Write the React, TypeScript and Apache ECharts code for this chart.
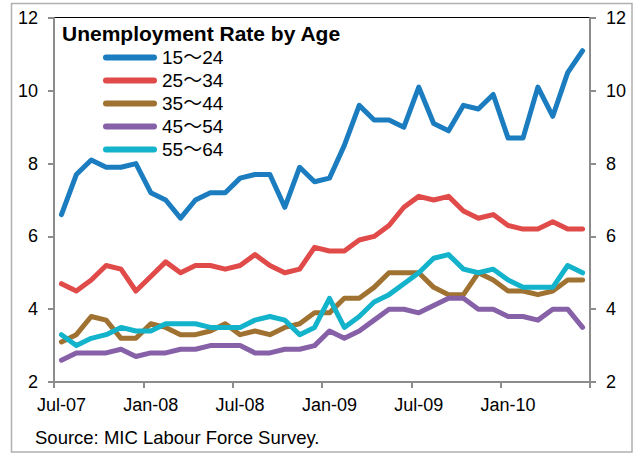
import React, { useEffect, useRef } from "react";
import * as echarts from "echarts";

const months = [
  "Jul-07", "Aug-07", "Sep-07", "Oct-07", "Nov-07", "Dec-07",
  "Jan-08", "Feb-08", "Mar-08", "Apr-08", "May-08", "Jun-08",
  "Jul-08", "Aug-08", "Sep-08", "Oct-08", "Nov-08", "Dec-08",
  "Jan-09", "Feb-09", "Mar-09", "Apr-09", "May-09", "Jun-09",
  "Jul-09", "Aug-09", "Sep-09", "Oct-09", "Nov-09", "Dec-09",
  "Jan-10", "Feb-10", "Mar-10", "Apr-10", "May-10", "Jun-10",
];

const age15to24 = [6.6, 7.7, 8.1, 7.9, 7.9, 8.0, 7.2, 7.0, 6.5, 7.0, 7.2, 7.2, 7.6, 7.7, 7.7, 6.8, 7.9, 7.5, 7.6, 8.5, 9.6, 9.2, 9.2, 9.0, 10.1, 9.1, 8.9, 9.6, 9.5, 9.9, 8.7, 8.7, 10.1, 9.3, 10.5, 11.1];
const age25to34 = [4.7, 4.5, 4.8, 5.2, 5.1, 4.5, 4.9, 5.3, 5.0, 5.2, 5.2, 5.1, 5.2, 5.5, 5.2, 5.0, 5.1, 5.7, 5.6, 5.6, 5.9, 6.0, 6.3, 6.8, 7.1, 7.0, 7.1, 6.7, 6.5, 6.6, 6.3, 6.2, 6.2, 6.4, 6.2, 6.2];
const age35to44 = [3.1, 3.3, 3.8, 3.7, 3.2, 3.2, 3.6, 3.5, 3.3, 3.3, 3.4, 3.6, 3.3, 3.4, 3.3, 3.5, 3.6, 3.9, 3.9, 4.3, 4.3, 4.6, 5.0, 5.0, 5.0, 4.6, 4.4, 4.4, 5.0, 4.8, 4.5, 4.5, 4.4, 4.5, 4.8, 4.8];
const age45to54 = [2.6, 2.8, 2.8, 2.8, 2.9, 2.7, 2.8, 2.8, 2.9, 2.9, 3.0, 3.0, 3.0, 2.8, 2.8, 2.9, 2.9, 3.0, 3.4, 3.2, 3.4, 3.7, 4.0, 4.0, 3.9, 4.1, 4.3, 4.3, 4.0, 4.0, 3.8, 3.8, 3.7, 4.0, 4.0, 3.5];
const age55to64 = [3.3, 3.0, 3.2, 3.3, 3.5, 3.4, 3.4, 3.6, 3.6, 3.6, 3.5, 3.5, 3.5, 3.7, 3.8, 3.7, 3.3, 3.5, 4.3, 3.5, 3.8, 4.2, 4.4, 4.7, 5.0, 5.4, 5.5, 5.1, 5.0, 5.1, 4.8, 4.6, 4.6, 4.6, 5.2, 5.0];

const seriesNames = ["15～24", "25～34", "35～44", "45～54", "55～64"];
const seriesData = [age15to24, age25to34, age35to44, age45to54, age55to64];
const seriesColors = ["#1B7DC0", "#E04B4A", "#A07231", "#8661A8", "#13B3CB"];

const titleText = "Unemployment Rate by Age";
const sourceText = "Source: MIC Labour Force Survey.";
const yMin = 2;
const yMax = 12;
const yStep = 2;

const FONT = "'Liberation Sans', Arial, 'Noto Sans CJK JP', sans-serif";

export default function App() {
  const ref = useRef<HTMLDivElement>(null);

  useEffect(() => {
    if (!ref.current) return;
    const chart = echarts.init(ref.current, null, { renderer: "svg" });
    const axisGray = "#8C8C8C";
    const yAxisCommon = {
      type: "value" as const,
      min: yMin,
      max: yMax,
      interval: yStep,
      splitLine: { show: false },
      axisLine: { show: true, lineStyle: { color: axisGray, width: 2 } },
      axisTick: { show: true, inside: false, length: 6, lineStyle: { color: axisGray, width: 2 } },
      axisLabel: { color: "#000", fontSize: 18, fontFamily: FONT, margin: 16 },
    };
    chart.setOption({
      animation: false,
      backgroundColor: "#fff",
      textStyle: { fontFamily: FONT },
      title: {
        text: titleText,
        left: 62,
        top: 23,
        padding: 0,
        textStyle: { fontSize: 21, fontWeight: "bold", color: "#000", fontFamily: FONT },
      },
      legend: {
        orient: "vertical",
        left: 103,
        top: 46,
        padding: 0,
        itemGap: 0,
        itemWidth: 54,
        itemHeight: 6,
        icon: "path://M3,0 H51 A3,3 0 0 1 51,6 H3 A3,3 0 0 1 3,0 Z",
        data: seriesNames,
        textStyle: { fontSize: 19, color: "#000", fontFamily: FONT, lineHeight: 23 },
      },
      grid: { left: 54, right: 43, top: 18, bottom: 71, outerBoundsMode: "none" },
      xAxis: {
        type: "category",
        data: months,
        boundaryGap: true,
        axisLine: { show: true, lineStyle: { color: axisGray, width: 2 } },
        axisTick: { show: true, interval: 5, length: 6, lineStyle: { color: axisGray, width: 2 } },
        axisLabel: { interval: 5, color: "#000", fontSize: 18, fontFamily: FONT, margin: 14 },
        splitLine: { show: false },
      },
      yAxis: [
        { ...yAxisCommon, position: "left" },
        { ...yAxisCommon, position: "right" },
      ],
      series: seriesNames.map((name, i) => ({
        name,
        type: "line",
        data: seriesData[i],
        yAxisIndex: 0,
        showSymbol: false,
        symbol: "none",
        color: seriesColors[i],
        lineStyle: { width: 5, color: seriesColors[i], cap: "round", join: "round" },
      })),
      graphic: [
        {
          type: "rect",
          silent: true,
          shape: { x: 11.5, y: 3.5, width: 620.5, height: 448.5 },
          style: { fill: "none", stroke: "#B0B0B0", lineWidth: 1.5 },
          z: -10,
        },
        {
          type: "line",
          silent: true,
          shape: { x1: 54, y1: 17.5, x2: 590, y2: 17.5 },
          style: { stroke: "#000", lineWidth: 1 },
        },
        {
          type: "text",
          left: 35,
          top: 428,
          style: { text: sourceText, fontSize: 18.5, fill: "#000", fontFamily: FONT },
        },
      ],
    });
    return () => chart.dispose();
  }, []);

  return (
    <div
      ref={ref}
      style={{ position: "fixed", left: 0, top: 0, width: 633, height: 453 }}
    />
  );
}
